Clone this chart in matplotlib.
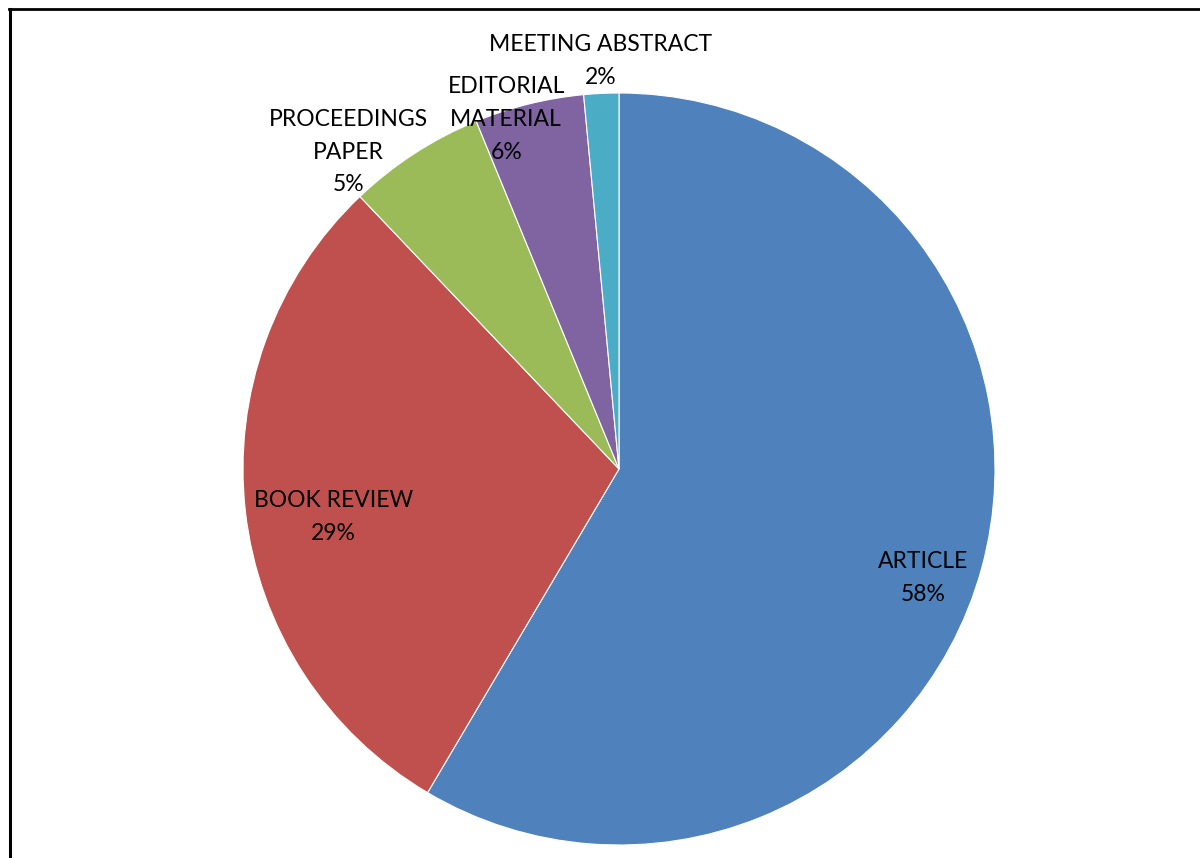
import numpy as np
import matplotlib.pyplot as plt
from matplotlib.lines import Line2D

plt.rcParams['font.family'] = ['Lato', 'DejaVu Sans']

# slice sizes measured from the wedge angles (percent)
categories = ['ARTICLE', 'BOOK REVIEW', 'PROCEEDINGS\nPAPER', 'EDITORIAL\nMATERIAL', 'MEETING ABSTRACT']
values = [58.5, 29.4, 5.9, 4.7, 1.5]
pct_labels = ['58%', '29%', '5%', '6%', '2%']
colors = ['#4F81BD', '#C0504D', '#9BBB59', '#8064A2', '#4BACC6']

# label positions (pie radius = 1)
label_pos = [(0.81, -0.29), (-0.76, -0.128), (-0.72, 0.843), (-0.30, 0.93), (-0.05, 1.085)]

W, H = 1200, 858
fig = plt.figure(figsize=(W / 100, H / 100), dpi=100)
cx, cy, r = 619, 469, 376
ax = fig.add_axes([(cx - r) / W, (H - cy - r) / H, 2 * r / W, 2 * r / H])

ax.pie(values, colors=colors, startangle=90, counterclock=False,
       wedgeprops=dict(edgecolor='white', linewidth=0.8), radius=1)
ax.set_xlim(-1, 1)
ax.set_ylim(-1, 1)
ax.set_aspect('equal')
ax.axis('off')

for name, pct, (x, y) in zip(categories, pct_labels, label_pos):
    ax.text(x, y, name + '\n' + pct, ha='center', va='center', fontsize=16.5,
            linespacing=1.7, color='black', clip_on=False)

# chart frame (only top and left edges are visible in the crop)
fig.add_artist(Line2D([9 / W, 1], [1 - 8.5 / H, 1 - 8.5 / H], color='black', lw=2))
fig.add_artist(Line2D([9.5 / W, 9.5 / W], [0, 1 - 8.5 / H], color='black', lw=2.2))

fig.savefig('out.png', dpi=100)
